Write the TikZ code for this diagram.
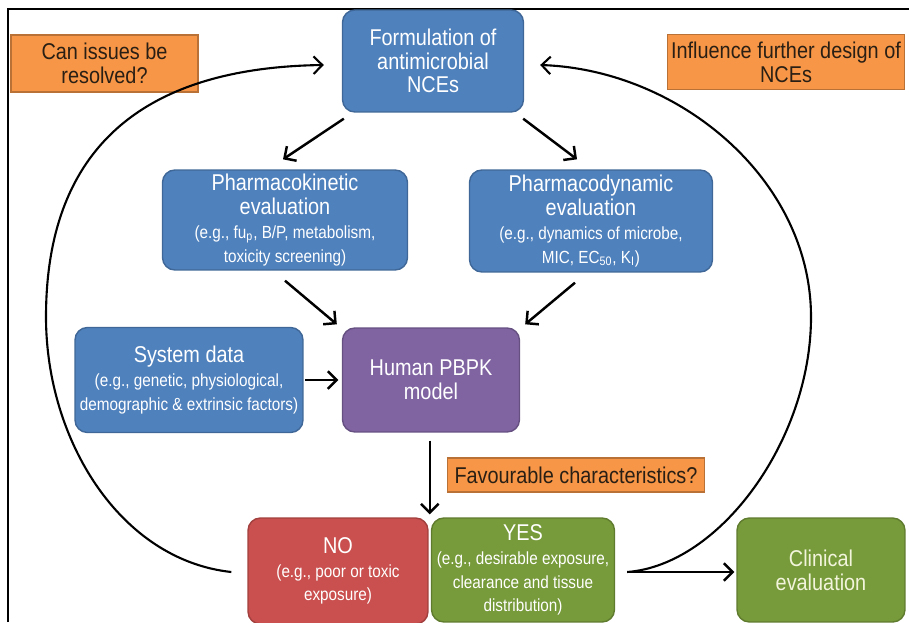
\documentclass[tikz,border=0pt]{standalone}
\usepackage{fontspec}
\setmainfont{Liberation Sans}[FakeStretch=0.87]
\usetikzlibrary{positioning, calc, arrows.meta}

\definecolor{boxblue}{HTML}{4F81BD}
\definecolor{boxpurple}{HTML}{8064A2}
\definecolor{boxred}{HTML}{C9504E}
\definecolor{boxgreen}{HTML}{779A3A}
\definecolor{noteorange}{HTML}{F79646}
\definecolor{notetext}{HTML}{2A1F14}
\definecolor{cliniccol}{HTML}{F2F5DC}
\newcommand{\bigtxt}{\fontsize{13}{13.5}\selectfont}
\newcommand{\smtxt}{\fontsize{10}{13}\selectfont}

\begin{document}
\begin{tikzpicture}[x=0.02cm,y=-0.02cm,
		box/.style={rounded corners=7pt, draw=#1!80!black, fill=#1, line width=0.8pt,
			text=white, align=center, font=\bigtxt, inner sep=2pt},
		note/.style={draw=noteorange!75!black, fill=noteorange, line width=0.8pt,
			text=notetext, align=center, font=\bigtxt, inner sep=2pt},
		arr/.style={line width=1.4pt, -{Straight Barb[length=5pt,width=10pt]}},
		loopline/.style={line width=1.2pt, -{Straight Barb[length=5pt,width=10pt]}}]
			\useasboundingbox (0,0) rectangle (909,622);
			\draw[line width=0.8pt] (8,622) -- (8,9) -- (909,9);
			% top row
			\node[box=boxblue, minimum width=3.62cm, minimum height=2.04cm] (form) at (433,61) {Formulation of\\antimicrobial\\NCEs};
			\node[note, minimum width=3.74cm, minimum height=1.14cm] (issues) at (104.5,63.5) {Can issues be\\resolved?};
			\node[note, minimum width=4.74cm, minimum height=1.1cm] (influence) at (786,62) {Influence further design of\\NCEs};
			% evaluations
			\node[box=boxblue, minimum width=4.9cm, minimum height=2cm] (pk) at (285,220)
				{Pharmacokinetic\\evaluation\\{\smtxt (e.g., fu\textsubscript{p}, B/P, metabolism,}\\{\smtxt toxicity screening)}};
			\node[box=boxblue, minimum width=4.86cm, minimum height=2.04cm] (pd) at (591,221)
				{Pharmacodynamic\\evaluation\\{\smtxt (e.g., dynamics of microbe,}\\{\smtxt MIC, EC\textsubscript{50}, K\textsubscript{I})}};
			\node[box=boxblue, minimum width=4.56cm, minimum height=2.1cm] (sys) at (189,380)
				{System data\\{\smtxt (e.g., genetic, physiological,}\\{\smtxt demographic \& extrinsic factors)}};
			\node[box=boxpurple, minimum width=3.54cm, minimum height=2.08cm] (pbpk) at (431,380) {Human PBPK\\model};
			\node[note, minimum width=5.14cm, minimum height=0.68cm] (fav) at (576,475) {Favourable characteristics?};
			% outcomes
			\node[box=boxred, minimum width=3.6cm, minimum height=2.12cm] (no) at (338,571)
				{NO\\{\smtxt (e.g., poor or toxic}\\{\smtxt exposure)}};
			\node[box=boxgreen, minimum width=3.66cm, minimum height=2.08cm] (yes) at (523,570)
				{YES\\{\smtxt (e.g., desirable exposure,}\\{\smtxt clearance and tissue}\\{\smtxt distribution)}};
			\node[box=boxgreen, text=cliniccol, minimum width=3.36cm, minimum height=2.08cm] (clin) at (821,570) {Clinical\\evaluation};
			% arrows
			\draw[arr] ($(form.south west)+(2,6)$) -- ($(pk.north)+(-2,-10)$);
			\draw[arr] ($(form.south east)+(-1,6)$) -- ($(pd.north)+(-14,-10)$);
			\draw[arr] ($(pk.south)+(0,10)$) -- ($(pbpk.north west)+(-5,-3)$);
			\draw[arr] ($(pd.south)+(-16,10)$) -- ($(pbpk.north east)+(5,-3)$);
			\draw[arr, shorten >=2pt, shorten <=1pt] (sys) -- (pbpk);
			\coordinate (split) at ($(no.north east)!0.5!(yes.north west)$);
			\draw[arr] ($(split |- pbpk.south)+(0,8)$) -- ($(split)+(0,-3)$);
			\coordinate (yesout) at ($(yes.east)+(12,2)$);
			\coordinate (noout) at ($(no.west)+(-16,1)$);
			\draw[arr] (yesout) -- ($(clin.west)+(-2,2)$);
			% feedback loops
			\draw[loopline] (yesout) .. controls (720,565) and (811,440) .. (811,317)
				.. controls (811,180) and (680,70) .. ($(form.east)+(16,4)$);
			\draw[loopline] (noout) .. controls (120,560) and (46,440) .. (46,317)
				.. controls (46,180) and (110,68) .. ($(form.west)+(-18,4)$);
\end{tikzpicture}
\end{document}
